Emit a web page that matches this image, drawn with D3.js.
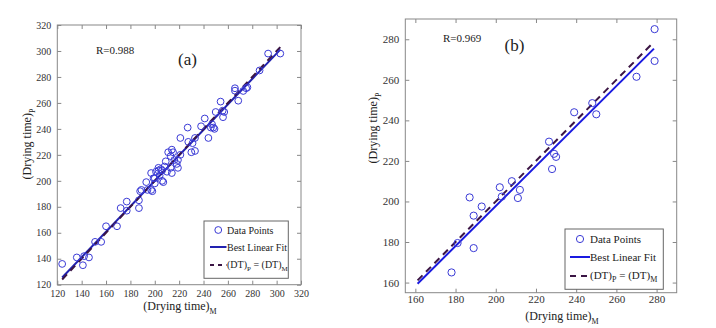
<!DOCTYPE html>
<html><head><meta charset="utf-8">
<script src="https://cdn.jsdelivr.net/npm/d3@7"></script>
<style>
body{margin:0;background:#fff}
svg text{font-family:"Liberation Serif","Times New Roman",serif}
</style>
</head><body>
<svg id="c" width="716" height="328" font-family="Liberation Serif, serif"></svg>
<script>
// ---------- Panel (a) data ----------
const measuredA = [124,136,141,142,146,151,156,160,169,172,177,177,187,187,188,189,
  193,194,198,197,200,201,203,203,204,206,207,208,209,210,211,213,214,215,214,216,219,218,219,213,
  221,221,227,227.5,230,231,233,233,238,241,244,246,247,248,249,250,254,256,257,255.7,
  265.8,265.8,268.5,272.6,275,276,286,293,303,200,205,206,199,197];
const predictedA = [136,141,135,142,141,153,153,165,165,179,184,177,179,185,192,193,
  199,193,192,206,202,207,210,208,204,208,199,211,215,207,222,219,224,222,206,216,216,213,210,210,
  233,220,241,230,222,229,223,233,242,248,233,241,243.5,241,240,253,261,249,253,254,
  271.3,269.4,261.7,269.2,271.3,272,285,298,298,198,209,200,202,193];
const fitAx = [124, 303];
const fitAy = [125.5, 301];
const ticksA = [120,140,160,180,200,220,240,260,280,300,320];

// ---------- Panel (b) data ----------
const measuredB = [178,181,189,189,187,193,202,203,208,211,212,226.5,228,229,230,239,248,250,270,279,279];
const predictedB = [165,179.5,177,193,202,197.5,207,202.4,210,201.7,205.7,229.5,216,223.5,222,244,248.5,243,261.5,285,269.3];
const fitBx = [161.1, 278.7];
const fitBy = [159.4, 275.4];
const ticksB = [160,180,200,220,240,260,280];

const FONT = '"Liberation Serif", "Times New Roman", serif';
const svg = d3.select("#c");

function sub(sel, main, s, size){
  sel.append("tspan").text(main);
  sel.append("tspan").attr("dy", 4).attr("font-size", size).text(s);
}

function panel(o){
  const x = d3.scaleLinear().domain(o.dom).range([o.l, o.r]);
  const y = d3.scaleLinear().domain(o.dom).range([o.b, o.t]);
  const g = svg.append("g").attr("font-family", FONT);
  const tl = 4;
  const ax = g.append("g").attr("transform", `translate(0,${o.b})`)
    .call(d3.axisBottom(x).tickValues(o.ticks).tickSize(-tl).tickPadding(o.xpad).tickFormat(d3.format("d")));
  const ay = g.append("g").attr("transform", `translate(${o.l},0)`)
    .call(d3.axisLeft(y).tickValues(o.ticks).tickSize(-tl).tickPadding(6).tickFormat(d3.format("d")));
  const at = g.append("g").attr("transform", `translate(0,${o.t})`)
    .call(d3.axisTop(x).tickValues(o.ticks).tickSize(-tl).tickFormat(""));
  const ar = g.append("g").attr("transform", `translate(${o.r},0)`)
    .call(d3.axisRight(y).tickValues(o.ticks).tickSize(-tl).tickFormat(""));
  [ax,ay,at,ar].forEach(a=>{
    a.attr("font-family", FONT).attr("font-size", o.tf);
    a.select(".domain").remove();
    a.selectAll("line").attr("stroke","#888");
    a.selectAll("text").attr("fill","#333");
  });
  g.append("rect").attr("x",o.l).attr("y",o.t).attr("width",o.r-o.l).attr("height",o.b-o.t)
    .attr("fill","none").attr("stroke","#888").attr("stroke-width",1);

  const line = d3.line().x(d=>x(d[0])).y(d=>y(d[1]));
  g.append("path").datum([[o.fx[0],o.fy[0]],[o.fx[1],o.fy[1]]]).attr("d",line)
    .attr("stroke",o.fitColor).attr("stroke-width",2).attr("fill","none");
  g.append("path").datum([[o.fx[0],o.fx[0]],[o.fx[1],o.fx[1]]]).attr("d",line)
    .attr("stroke","#3b1544").attr("stroke-width",2).attr("stroke-dasharray","7,5").attr("fill","none");

  g.append("g").selectAll("circle").data(o.mx.map((v,i)=>[v,o.py[i]])).join("circle")
    .attr("cx",d=>x(d[0])).attr("cy",d=>y(d[1])).attr("r",o.cr)
    .attr("fill","none").attr("stroke","#3a3ad6").attr("stroke-width",1);

  g.append("text").attr("x",o.rx).attr("y",o.ry).attr("font-size",o.rf).attr("fill","#222").text(o.rText);
  g.append("text").attr("x",o.lx).attr("y",o.ly).attr("font-size",17).attr("fill","#222")
    .attr("text-anchor","middle").text(o.label);

  const xt = g.append("text").attr("x",o.xtx).attr("y",o.xty).attr("font-size",12).attr("fill","#222")
    .attr("text-anchor","middle");
  sub(xt,"(Drying time)","M",8);
  const yt = g.append("text").attr("transform",`translate(${o.ytx},${o.yty}) rotate(-90)`)
    .attr("font-size",12).attr("fill","#222").attr("text-anchor","middle");
  sub(yt,"(Drying time)","P",8);

  const L = o.leg;
  g.append("rect").attr("x",L.x).attr("y",L.y).attr("width",L.w).attr("height",L.h)
    .attr("fill","#fff").attr("stroke","#666").attr("stroke-width",1);
  g.append("circle").attr("cx",L.sx+(L.sw)/2).attr("cy",L.r1).attr("r",o.cr)
    .attr("fill","none").attr("stroke","#3a3ad6").attr("stroke-width",1);
  g.append("line").attr("x1",L.sx).attr("x2",L.sx+L.sw).attr("y1",L.r2).attr("y2",L.r2)
    .attr("stroke",o.fitColor).attr("stroke-width",2);
  g.append("line").attr("x1",L.sx).attr("x2",L.sx+L.sw).attr("y1",L.r3).attr("y2",L.r3)
    .attr("stroke","#3b1544").attr("stroke-width",2).attr("stroke-dasharray",L.dash);
  g.append("text").attr("x",L.tx).attr("y",L.r1+4).attr("font-size",L.f).attr("fill","#222").text("Data Points");
  g.append("text").attr("x",L.tx).attr("y",L.r2+4).attr("font-size",L.f).attr("fill","#222").text("Best Linear Fit");
  const t3 = g.append("text").attr("x",L.tx).attr("y",L.r3+3).attr("font-size",L.f).attr("fill","#222");
  t3.append("tspan").text("(DT)");
  t3.append("tspan").attr("dy",3).attr("font-size",L.f-3).text("P");
  t3.append("tspan").attr("dy",-3).text(" = (DT)");
  t3.append("tspan").attr("dy",3).attr("font-size",L.f-3).text("M");
}

panel({dom:[120,320], ticks:ticksA, l:57.3, r:301, t:25, b:284.7, tf:10, xpad:5,
  mx:measuredA, py:predictedA, fx:fitAx, fy:fitAy, fitColor:"#2222b0", cr:3.4,
  rx:96, ry:54, rf:11, rText:"R=0.988", lx:187.5, ly:65, label:"(a)",
  xtx:180, xty:310, ytx:31, yty:144,
  leg:{x:204,y:221,w:84.3,h:57.3, sx:210, sw:16.5, tx:227, r1:230, r2:247, r3:265, f:10, dash:"4,4"}});

panel({dom:[155,290], ticks:ticksB, l:405.3, r:676.7, t:19, b:292.7, tf:11, xpad:3,
  mx:measuredB, py:predictedB, fx:fitBx, fy:fitBy, fitColor:"#1a1ae0", cr:3.6,
  rx:443, ry:42, rf:11, rText:"R=0.969", lx:514.5, ly:51, label:"(b)",
  xtx:562, xty:320, ytx:377, yty:128,
  leg:{x:565,y:229,w:98.3,h:60.3, sx:570, sw:20, tx:590, r1:239, r2:257, r3:276, f:11, dash:"6,5"}});
</script>
</body></html>
